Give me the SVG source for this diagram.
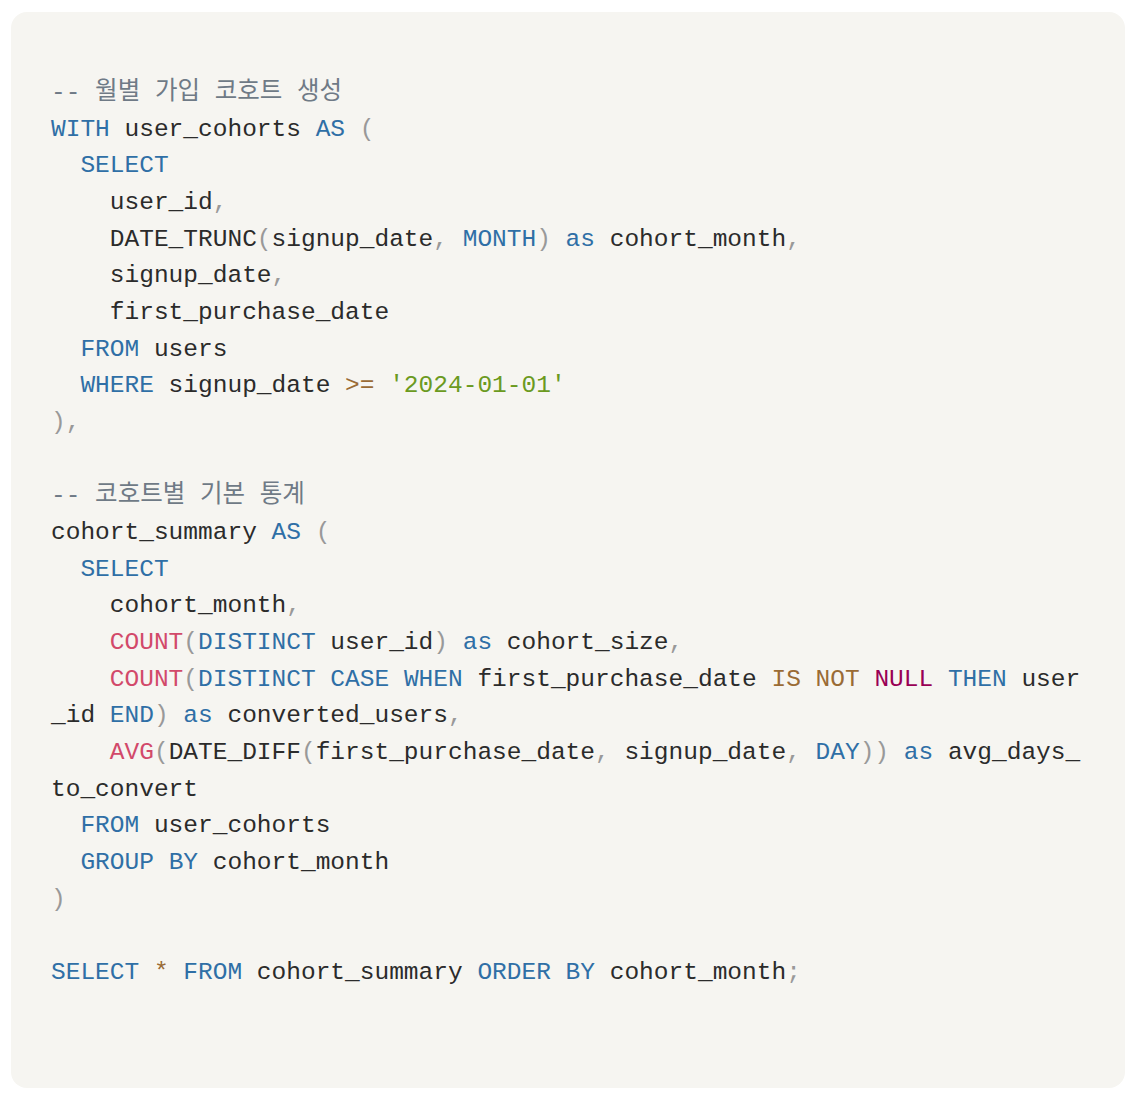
<svg xmlns="http://www.w3.org/2000/svg" width="1138" height="1096" viewBox="0 0 1138 1096">
<style>
text{font-family:"Liberation Mono","DejaVu Sans Mono","Noto Sans CJK KR",monospace;font-size:24.5px;fill:#2b2b2b;white-space:pre}
.k{fill:#2f6fa6}.c{fill:#6f7a86}.p{fill:#999999}.s{fill:#6b9a1f}.o{fill:#9a6b35}.f{fill:#d2496a}.n{fill:#990055}
</style>
<rect width="1138" height="1096" fill="#ffffff"/>
<rect x="11" y="12" width="1114" height="1076" rx="16" fill="#f6f5f1"/>
<g id="code" xml:space="preserve">
<text x="51" y="99" class="c">-- 월별 가입 코호트 생성</text>
<text x="51" y="136"><tspan class="k">WITH</tspan> user_cohorts <tspan class="k">AS</tspan> <tspan class="p">(</tspan></text>
<text x="51" y="172">  <tspan class="k">SELECT</tspan></text>
<text x="51" y="209">    user_id<tspan class="p">,</tspan></text>
<text x="51" y="246">    DATE_TRUNC<tspan class="p">(</tspan>signup_date<tspan class="p">,</tspan> <tspan class="k">MONTH</tspan><tspan class="p">)</tspan> <tspan class="k">as</tspan> cohort_month<tspan class="p">,</tspan></text>
<text x="51" y="282">    signup_date<tspan class="p">,</tspan></text>
<text x="51" y="319">    first_purchase_date</text>
<text x="51" y="356">  <tspan class="k">FROM</tspan> users</text>
<text x="51" y="392">  <tspan class="k">WHERE</tspan> signup_date <tspan class="o">&gt;=</tspan> <tspan class="s">'2024-01-01'</tspan></text>
<text x="51" y="429" class="p">),</text>
<text x="51" y="502" class="c">-- 코호트별 기본 통계</text>
<text x="51" y="539">cohort_summary <tspan class="k">AS</tspan> <tspan class="p">(</tspan></text>
<text x="51" y="576">  <tspan class="k">SELECT</tspan></text>
<text x="51" y="612">    cohort_month<tspan class="p">,</tspan></text>
<text x="51" y="649">    <tspan class="f">COUNT</tspan><tspan class="p">(</tspan><tspan class="k">DISTINCT</tspan> user_id<tspan class="p">)</tspan> <tspan class="k">as</tspan> cohort_size<tspan class="p">,</tspan></text>
<text x="51" y="686">    <tspan class="f">COUNT</tspan><tspan class="p">(</tspan><tspan class="k">DISTINCT</tspan> <tspan class="k">CASE</tspan> <tspan class="k">WHEN</tspan> first_purchase_date <tspan class="o">IS</tspan> <tspan class="o">NOT</tspan> <tspan class="n">NULL</tspan> <tspan class="k">THEN</tspan> user</text>
<text x="51" y="722">_id <tspan class="k">END</tspan><tspan class="p">)</tspan> <tspan class="k">as</tspan> converted_users<tspan class="p">,</tspan></text>
<text x="51" y="759">    <tspan class="f">AVG</tspan><tspan class="p">(</tspan>DATE_DIFF<tspan class="p">(</tspan>first_purchase_date<tspan class="p">,</tspan> signup_date<tspan class="p">,</tspan> <tspan class="k">DAY</tspan><tspan class="p">))</tspan> <tspan class="k">as</tspan> avg_days_</text>
<text x="51" y="796">to_convert</text>
<text x="51" y="832">  <tspan class="k">FROM</tspan> user_cohorts</text>
<text x="51" y="869">  <tspan class="k">GROUP</tspan> <tspan class="k">BY</tspan> cohort_month</text>
<text x="51" y="906" class="p">)</text>
<text x="51" y="979"><tspan class="k">SELECT</tspan> <tspan class="o">*</tspan> <tspan class="k">FROM</tspan> cohort_summary <tspan class="k">ORDER</tspan> <tspan class="k">BY</tspan> cohort_month<tspan class="p">;</tspan></text>
</g>
</svg>
